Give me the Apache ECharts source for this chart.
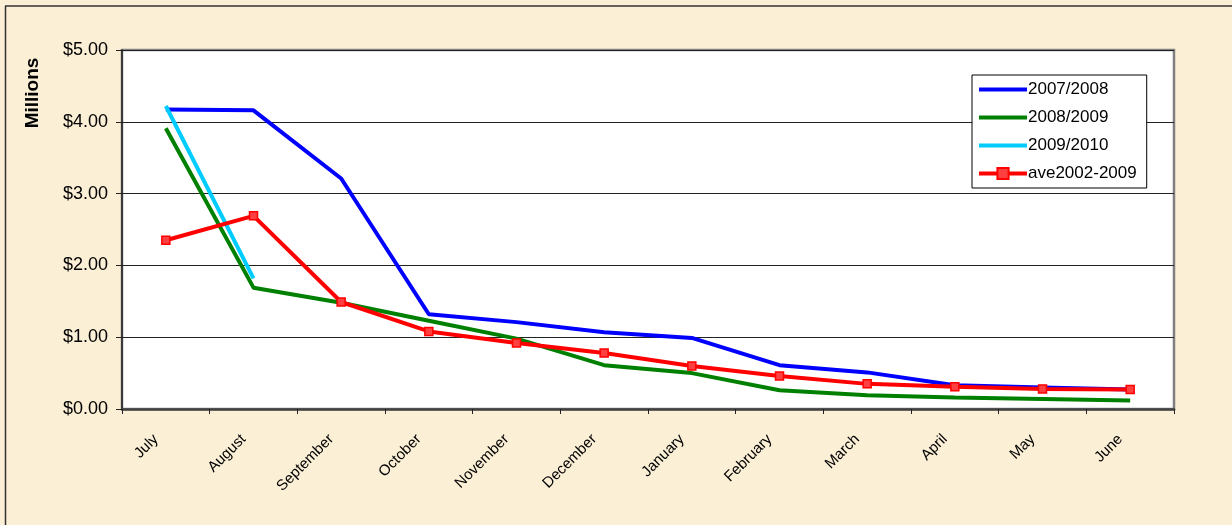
<!DOCTYPE html>
<html>
<head>
<meta charset="utf-8">
<script src="https://cdn.jsdelivr.net/npm/echarts@6/dist/echarts.min.js"></script>
<style>
  html, body { margin: 0; padding: 0; background: #fbefd6; }
  #main { width: 1232px; height: 525px; }
</style>
</head>
<body>
<div id="main"></div>
<script>
const months = ["July", "August", "September", "October", "November", "December",
  "January", "February", "March", "April", "May", "June"];

const s0708 = [4.17, 4.16, 3.21, 1.32, 1.21, 1.07, 0.99, 0.61, 0.51, 0.33, 0.30, 0.27];
const s0809 = [3.91, 1.69, 1.48, 1.23, 0.98, 0.61, 0.50, 0.26, 0.19, 0.16, 0.14, 0.12];
const s0910 = [4.22, 1.82];
const ave = [2.35, 2.69, 1.49, 1.08, 0.92, 0.78, 0.60, 0.46, 0.35, 0.31, 0.28, 0.27];

const chart = echarts.init(document.getElementById("main"));

// legend entries: plain lines hide the default symbol
const plainItem = (name, color) => ({
  name: name,
  itemStyle: { opacity: 0 },
  lineStyle: { color: color, width: 4 }
});

const option = {
  backgroundColor: "#fbefd6",
  animation: false,
  textStyle: { fontFamily: "Liberation Sans, Arial, sans-serif" },
  graphic: [
    // outer frame (left and top edge visible)
    { type: "line", shape: { x1: 5.5, y1: 6, x2: 5.5, y2: 525 }, style: { stroke: "#333", lineWidth: 1.5 } },
    { type: "line", shape: { x1: 5, y1: 6, x2: 1232, y2: 6 }, style: { stroke: "#333", lineWidth: 1.5 } },
    {
      type: "text",
      x: 33, y: 93,
      rotation: Math.PI / 2,
      style: {
        text: "Millions",
        font: "bold 19px Liberation Sans, Arial, sans-serif",
        fill: "#000",
        align: "center",
        verticalAlign: "middle"
      }
    }
  ],
  grid: {
    left: 122, right: 58, top: 50, bottom: 116,
    show: true,
    backgroundColor: "#ffffff",
    borderColor: "#808080",
    borderWidth: 2.5
  },
  legend: {
    orient: "vertical",
    left: 972, top: 75,
    backgroundColor: "#ffffff",
    borderColor: "#000",
    borderWidth: 1,
    padding: [6, 10, 6, 5],
    itemWidth: 48,
    itemHeight: 14,
    itemGap: 11,
    textStyle: { fontSize: 17, color: "#000", padding: [0, 0, 0, -4] },
    data: [
      plainItem("2007/2008", "#0000ff"),
      plainItem("2008/2009", "#008000"),
      plainItem("2009/2010", "#00ccff"),
      { name: "ave2002-2009", lineStyle: { color: "#ff0000", width: 4 } }
    ]
  },
  xAxis: {
    type: "category",
    data: months,
    boundaryGap: true,
    axisLine: { lineStyle: { color: "#404040", width: 2.5 } },
    axisTick: { show: true, length: 5, lineStyle: { color: "#222", width: 1 } },
    axisLabel: {
      rotate: 45, fontSize: 15, color: "#000", margin: 18, interval: 0,
      padding: [0, 14, 0, 0]
    },
    splitLine: { show: false }
  },
  yAxis: {
    type: "value",
    min: 0, max: 5, interval: 1,
    axisLine: { show: true, lineStyle: { color: "#222", width: 1.5 } },
    axisTick: { show: true, length: 6, lineStyle: { color: "#222" } },
    axisLabel: {
      fontSize: 18, color: "#000", margin: 14,
      formatter: v => "$" + v.toFixed(2)
    },
    splitLine: { show: true, lineStyle: { color: "#222", width: 1 } }
  },
  series: [
    {
      name: "2007/2008", type: "line", data: s0708,
      symbol: "none", lineStyle: { color: "#0000ff", width: 4 },
      itemStyle: { color: "#0000ff" }
    },
    {
      name: "2008/2009", type: "line", data: s0809,
      symbol: "none", lineStyle: { color: "#008000", width: 4 },
      itemStyle: { color: "#008000" }
    },
    {
      name: "2009/2010", type: "line", data: s0910,
      symbol: "none", lineStyle: { color: "#00ccff", width: 4 },
      itemStyle: { color: "#00ccff" }
    },
    {
      name: "ave2002-2009", type: "line", data: ave,
      symbol: "rect", symbolSize: 8,
      lineStyle: { color: "#ff0000", width: 4 },
      itemStyle: { color: "#ff4040", borderColor: "#ff0000", borderWidth: 1.5 }
    }
  ]
};

chart.setOption(option);
window.addEventListener("resize", () => chart.resize());
</script>
</body>
</html>
